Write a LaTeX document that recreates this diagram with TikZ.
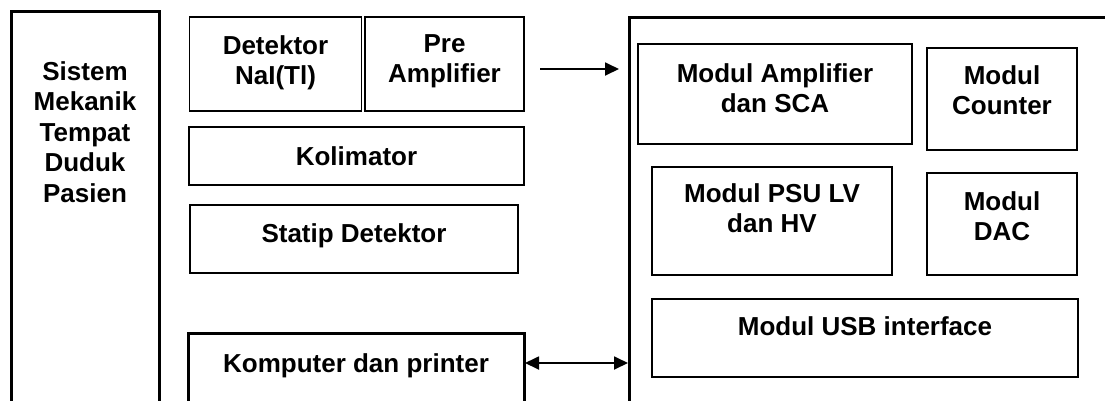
\documentclass[tikz,border=0pt]{standalone}
\usepackage{fontspec}
\setmainfont{Liberation Sans}
\usetikzlibrary{arrows.meta}
\begin{document}
\begin{tikzpicture}[x=1pt,y=-1pt,
  box/.style={draw,line width=1.3pt,inner sep=0pt},
  heavy/.style={draw,line width=3pt},
  txt/.style={font=\fontsize{26}{30.5}\selectfont\bfseries,align=center,inner sep=0pt,anchor=north},
  tip/.tip={Triangle[length=14pt,width=13pt]},
  arr/.style={line width=1.8pt,-tip},
  biarr/.style={line width=1.8pt,tip-tip}]
\useasboundingbox (0,0) rectangle (1105,400);
\clip (0,0) rectangle (1105,400);
% left mechanical system box
\draw[heavy] (11,11) rectangle (159,420);
\node[txt] (tsis) at (85,61) {Sistem\\Mekanik\\Tempat\\Duduk\\Pasien};
% detector column
\node[box,minimum width=172pt,minimum height=94pt] (det) at (275.5,64) {};
\node[txt] (tdet) at (275.5,35) {Detektor\\NaI(Tl)};
\node[box,minimum width=159pt,minimum height=94pt] (pre) at (444.5,64) {};
\node[txt] (tpre) at (444.5,34) {Pre\\Amplifier};
\node[box,minimum width=335pt,minimum height=58pt] (kol) at (356.5,156) {};
\node[txt] (tkol) at (356.5,146) {Kolimator};
\node[box,minimum width=328pt,minimum height=68pt] (sta) at (354,239) {};
\node[txt] (tsta) at (354,223) {Statip Detektor};
% computer box (open at bottom)
\draw[heavy] (188,420) -- (188,333) -- (524,333) -- (524,420);
\coordinate (kompE) at (525,363);
\node[txt] (tkom) at (356,353) {Komputer dan printer};
% right electronics enclosure
\draw[heavy] (629,420) -- (629,17) -- (1110,17);
\coordinate (encIn) at (619,69);
\coordinate (encE) at (628,363);
\coordinate (preOut) at (540,69);
\node[box,minimum width=274pt,minimum height=100pt] (amp) at (775,94) {};
\node[txt] (tamp) at (775,63) {Modul Amplifier\\dan SCA};
\node[box,minimum width=150pt,minimum height=102pt] (cnt) at (1002,99) {};
\node[txt] (tcnt) at (1002,65) {Modul\\Counter};
\node[box,minimum width=240pt,minimum height=108pt] (psu) at (772,221) {};
\node[txt] (tpsu) at (772,183) {Modul PSU LV\\dan HV};
\node[box,minimum width=150pt,minimum height=102pt] (dac) at (1002,224) {};
\node[txt] (tdac) at (1002,191) {Modul\\DAC};
\node[box,minimum width=426pt,minimum height=78pt] (usb) at (865,338) {};
\node[txt] (tusb) at (865,316) {Modul USB interface};
% connectors
\draw[arr] (preOut) -- (encIn);
\draw[biarr] (kompE) -- (encE);
\end{tikzpicture}
\end{document}
